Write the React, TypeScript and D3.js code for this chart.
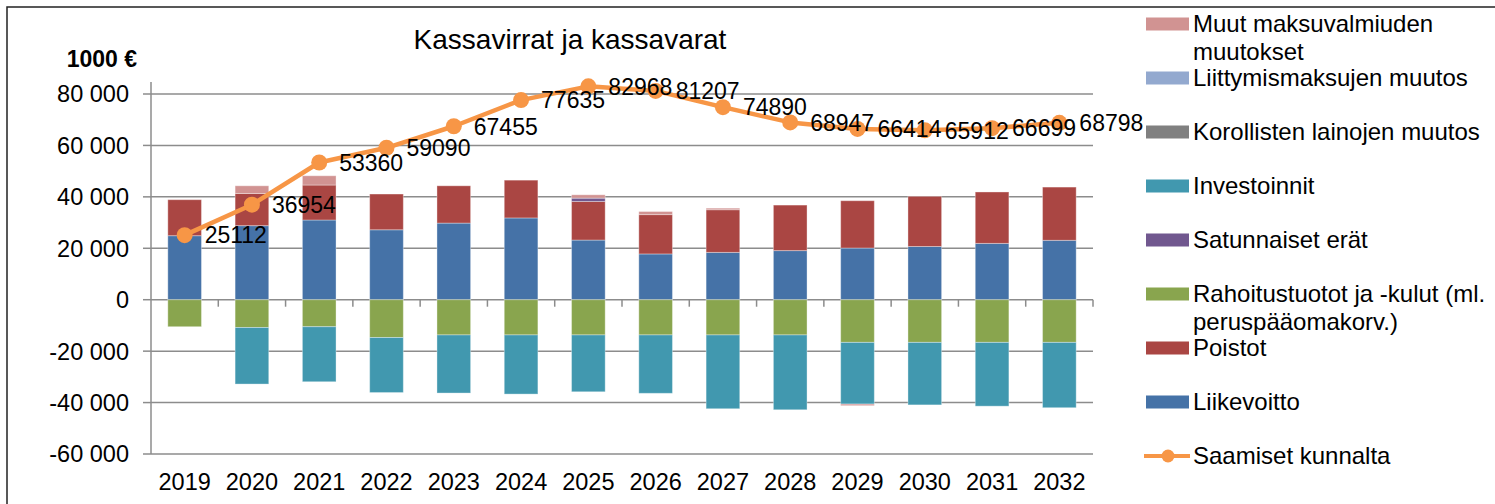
import React, { useEffect, useRef } from "react";
import * as d3 from "d3";

const years = ["2019", "2020", "2021", "2022", "2023", "2024", "2025", "2026", "2027", "2028", "2029", "2030", "2031", "2032"];

const liikevoitto = [24900, 28800, 31000, 27200, 29800, 31800, 23200, 17800, 18400, 19100, 20100, 20700, 21900, 23100];
const poistot = [14000, 12500, 13600, 13900, 14500, 14700, 15000, 15300, 16600, 17700, 18400, 19500, 20000, 20700];
const rahoitus = [-10500, -10800, -10500, -14700, -13700, -13700, -13700, -13700, -13700, -13700, -16600, -16600, -16600, -16600];
const satunnaiset = [0, 0, 0, 0, 0, 0, 1300, 0, 0, 0, 0, 0, 0, 0];
const investoinnit = [0, -22000, -21400, -21400, -22600, -23000, -22100, -22700, -28700, -29100, -24000, -24300, -24800, -25400];
const korollisten = [0, 0, 0, 0, 0, 0, 0, 0, 0, 0, 0, 0, 0, 0];
const liittymis = [0, 0, 0, 0, 0, 0, 0, 0, 0, 0, 0, 0, 0, 0];
const muut = [0, 3000, 3600, 0, 0, 0, 1300, 1200, 600, 0, -600, 0, 0, 0];
const saamiset = [25112, 36954, 53360, 59090, 67455, 77635, 82968, 81207, 74890, 68947, 66414, 65912, 66699, 68798];

const yTicks = [-60000, -40000, -20000, 0, 20000, 40000, 60000, 80000];

// stacking order bottom-up
const series = [
  { key: "liikevoitto", values: liikevoitto, color: "#4572A7" },
  { key: "poistot", values: poistot, color: "#AA4643" },
  { key: "rahoitus", values: rahoitus, color: "#89A54E" },
  { key: "satunnaiset", values: satunnaiset, color: "#71588F" },
  { key: "investoinnit", values: investoinnit, color: "#4198AF" },
  { key: "korollisten", values: korollisten, color: "#808080" },
  { key: "liittymis", values: liittymis, color: "#93A9CF" },
  { key: "muut", values: muut, color: "#D19392" },
];

const legendItems = [
  { lines: ["Muut maksuvalmiuden", "muutokset"], color: "#D19392" },
  { lines: ["Liittymismaksujen muutos"], color: "#93A9CF" },
  { lines: ["Korollisten lainojen muutos"], color: "#808080" },
  { lines: ["Investoinnit"], color: "#4198AF" },
  { lines: ["Satunnaiset erät"], color: "#71588F" },
  { lines: ["Rahoitustuotot ja -kulut (ml.", "peruspääomakorv.)"], color: "#89A54E" },
  { lines: ["Poistot"], color: "#AA4643" },
  { lines: ["Liikevoitto"], color: "#4572A7" },
  { lines: ["Saamiset kunnalta"], color: "#F79646", line: true },
];

const FONT = "'Liberation Sans', Arial, sans-serif";
const ORANGE = "#F79646";
const GRID = "#8c8c8c";

export default function App() {
  const svgRef = useRef(null);

  useEffect(() => {
    const width = 1495;
    const height = 504;
    const svg = d3.select(svgRef.current).attr("width", width).attr("height", height);
    svg.selectAll("*").remove();

    const left = 151, right = 1093;

    const x = d3.scaleBand().domain(years).range([left, right]).paddingInner(0.5).paddingOuter(0.25);
    const y = d3.scaleLinear().domain([-60000, 80000]).range([454, 94]);
    const step = x.step();
    const cx = (yr) => x(yr) + x.bandwidth() / 2;

    // frame
    svg.append("rect").attr("x", 7).attr("y", 7).attr("width", 1520).attr("height", 520)
      .attr("fill", "#fff").attr("stroke", "#222").attr("stroke-width", 1.5);

    // title
    svg.append("text").attr("x", 570).attr("y", 49).attr("text-anchor", "middle")
      .style("font-family", FONT).style("font-size", "28px").attr("fill", "#000")
      .text("Kassavirrat ja kassavarat");

    svg.append("text").attr("x", 137).attr("y", 67).attr("text-anchor", "end")
      .style("font-family", FONT).style("font-size", "23px").style("font-weight", "bold")
      .text("1000 €");

    // gridlines
    svg.append("g").selectAll("line").data(yTicks).enter().append("line")
      .attr("x1", left).attr("x2", right)
      .attr("y1", d => y(d)).attr("y2", d => y(d))
      .attr("stroke", GRID).attr("stroke-width", 1.5);

    // y axis
    svg.append("line").attr("x1", left).attr("x2", left).attr("y1", y(80000) - 12).attr("y2", y(-60000))
      .attr("stroke", GRID).attr("stroke-width", 1.5);
    svg.append("g").selectAll("line").data(yTicks).enter().append("line")
      .attr("x1", left - 8).attr("x2", left)
      .attr("y1", d => y(d)).attr("y2", d => y(d))
      .attr("stroke", GRID).attr("stroke-width", 1.5);
    svg.append("g").selectAll("text").data(yTicks).enter().append("text")
      .attr("x", 129).attr("y", d => y(d)).attr("dy", "0.36em").attr("text-anchor", "end")
      .style("font-family", FONT).style("font-size", "23.5px")
      .text(d => d3.format(",")(d).replace(/,/g, " ").replace("−", "-"));

    // category ticks on zero line
    svg.append("g").selectAll("line").data(d3.range(1, years.length + 1)).enter().append("line")
      .attr("x1", i => left + i * step).attr("x2", i => left + i * step)
      .attr("y1", y(0)).attr("y2", y(0) + 7)
      .attr("stroke", GRID).attr("stroke-width", 1.5);

    // x labels
    svg.append("g").selectAll("text").data(years).enter().append("text")
      .attr("x", d => cx(d)).attr("y", 490).attr("text-anchor", "middle")
      .style("font-family", FONT).style("font-size", "23.5px")
      .text(d => d);

    // stacked bars
    const rows = years.map((yr, i) => {
      const r = { year: yr };
      series.forEach(s => { r[s.key] = s.values[i]; });
      return r;
    });
    const stacked = d3.stack().keys(series.map(s => s.key)).offset(d3.stackOffsetDiverging)(rows);

    const bars = svg.append("g");
    stacked.forEach((layer, li) => {
      bars.append("g").selectAll("rect").data(layer.filter(d => d[1] !== d[0])).enter().append("rect")
        .attr("x", d => x(d.data.year))
        .attr("width", x.bandwidth())
        .attr("y", d => y(Math.max(d[0], d[1])))
        .attr("height", d => Math.abs(y(d[0]) - y(d[1])))
        .attr("fill", series[li].color)
        .attr("stroke", "#fff").attr("stroke-opacity", 0.35).attr("stroke-width", 1);
    });

    // line
    const line = d3.line().x((d, i) => cx(years[i])).y(d => y(d));
    svg.append("path").datum(saamiset).attr("d", line)
      .attr("fill", "none").attr("stroke", ORANGE).attr("stroke-width", 4.5).attr("stroke-linejoin", "round");
    svg.append("g").selectAll("circle").data(saamiset).enter().append("circle")
      .attr("cx", (d, i) => cx(years[i])).attr("cy", d => y(d)).attr("r", 8)
      .attr("fill", ORANGE);
    svg.append("g").selectAll("text").data(saamiset).enter().append("text")
      .attr("x", (d, i) => cx(years[i]) + 20).attr("y", d => y(d)).attr("dy", "0.36em")
      .style("font-family", FONT).style("font-size", "23px").attr("fill", "#000")
      .text(d => d);

    // legend
    const lg = svg.append("g");
    let ly = 24;
    legendItems.forEach(item => {
      if (item.line) {
        lg.append("line").attr("x1", 1144).attr("x2", 1190).attr("y1", ly).attr("y2", ly)
          .attr("stroke", item.color).attr("stroke-width", 4);
        lg.append("circle").attr("cx", 1168).attr("cy", ly).attr("r", 6.5).attr("fill", item.color);
      } else {
        lg.append("rect").attr("x", 1146).attr("y", ly - 6.5).attr("width", 43).attr("height", 13)
          .attr("fill", item.color);
      }
      const t = lg.append("text").attr("x", 1193).attr("y", ly + 8)
        .style("font-family", FONT).style("font-size", "24px");
      item.lines.forEach((ln, k) => {
        t.append("tspan").attr("x", 1193).attr("dy", k === 0 ? 0 : 28).text(ln);
      });
      ly += 54;
    });
  }, []);

  return (
    <div style={{ position: "absolute", left: 0, top: 0 }}>
      <svg ref={svgRef} style={{ display: "block" }}></svg>
    </div>
  );
}
